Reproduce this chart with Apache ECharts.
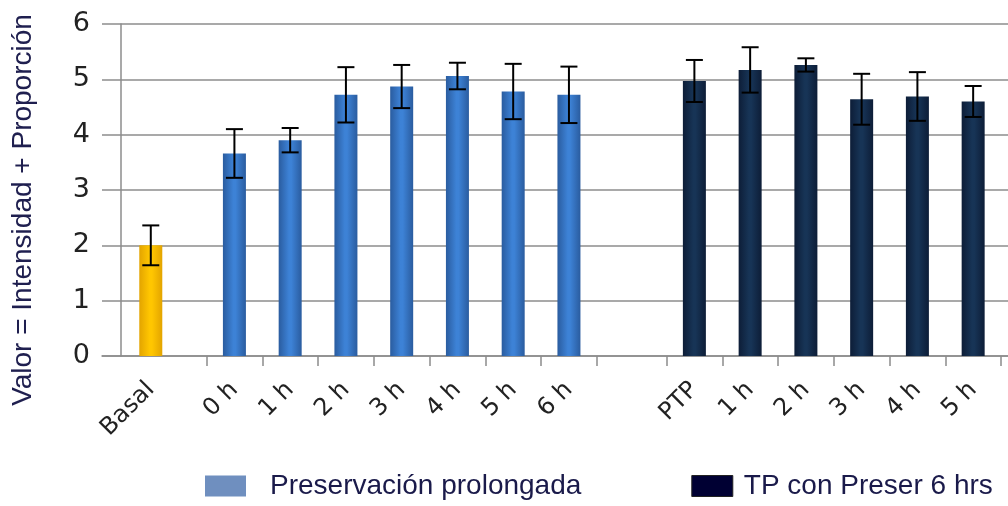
<!DOCTYPE html>
<html>
<head>
<meta charset="utf-8">
<script src="https://cdn.jsdelivr.net/npm/echarts@6/dist/echarts.min.js"></script>
<style>
html,body{margin:0;padding:0;background:#fff;}
#c{width:1008px;height:506px;}
</style>
</head>
<body>
<div id="c"></div>
<script>
// ---- data ----
const basalCategories = ['Basal'];
const basalValues = [2.0];
const basalErrors = [0.36];

const prolongadaCategories = ['0 h', '1 h', '2 h', '3 h', '4 h', '5 h', '6 h'];
const prolongadaValues = [3.66, 3.90, 4.72, 4.87, 5.06, 4.78, 4.72];
const prolongadaErrors = [0.44, 0.22, 0.50, 0.39, 0.24, 0.50, 0.51];

const tpCategories = ['PTP', '1 h', '2 h', '3 h', '4 h', '5 h'];
const tpValues = [4.97, 5.17, 5.26, 4.64, 4.69, 4.60];
const tpErrors = [0.38, 0.41, 0.12, 0.46, 0.44, 0.28];

const yTicks = [0, 1, 2, 3, 4, 5, 6];
const legendNames = ['Preservación prolongada', 'TP con Preser 6 hrs'];
const yTitle = 'Valor = Intensidad + Proporción';

// ---- layout (fine slot grid on the category axis, with gaps between groups) ----
const TOTAL_SLOTS = 65;
const SLOTS_PER_BAR = 4;
const groupStartSlot = [3, 9, 42];

const groups = [
  {cats: basalCategories, vals: basalValues, errs: basalErrors},
  {cats: prolongadaCategories, vals: prolongadaValues, errs: prolongadaErrors},
  {cats: tpCategories, vals: tpValues, errs: tpErrors}
];
const axisData = new Array(TOTAL_SLOTS).fill('');
const seriesData = groups.map(() => new Array(TOTAL_SLOTS).fill('-'));
const errorData = [];
const tickSlots = new Set();
groups.forEach((g, gi) => {
  g.cats.forEach((c, i) => {
    const s = groupStartSlot[gi] + i * SLOTS_PER_BAR;
    axisData[s] = c;
    seriesData[gi][s] = g.vals[i];
    errorData.push([s, g.vals[i] - g.errs[i], g.vals[i] + g.errs[i]]);
    if (gi > 0) { tickSlots.add(s - SLOTS_PER_BAR / 2); tickSlots.add(s + SLOTS_PER_BAR / 2); }
  });
});

function grad(edge, mid) {
  return new echarts.graphic.LinearGradient(0, 0, 1, 0, [
    {offset: 0, color: edge}, {offset: 0.45, color: mid}, {offset: 0.55, color: mid}, {offset: 1, color: edge}
  ]);
}

const chart = echarts.init(document.getElementById('c'), null, {renderer: 'canvas'});
chart.setOption({
  animation: false,
  backgroundColor: '#ffffff',
  grid: {left: 102, right: -4, top: 24, bottom: 150, containLabel: false},
  graphic: [{
    type: 'text', x: 23, y: 210, rotation: Math.PI / 2,
    style: {text: yTitle, font: '28px "Liberation Sans", Arial, sans-serif', fill: '#1f1f4f',
      textAlign: 'center', textVerticalAlign: 'middle'}
  }],
  legend: {
    left: 200, top: 467, width: 1200, orient: 'horizontal',
    itemWidth: 41, itemHeight: 21, itemGap: 110, icon: 'rect',
    textStyle: {fontFamily: '"Liberation Sans", Arial, sans-serif', fontSize: 28, color: '#1a1a4a'},
    data: [
      {name: legendNames[0], itemStyle: {color: '#6f8fbf'}, textStyle: {padding: [0, 0, 0, 19]}},
      {name: legendNames[1], itemStyle: {color: '#000033', borderColor: '#222', borderWidth: 1}, textStyle: {padding: [0, 0, 0, 6]}}
    ]
  },
  xAxis: {
    type: 'category', data: axisData,
    axisLine: {lineStyle: {color: '#8c8c8c', width: 1.5}},
    axisTick: {show: true, alignWithLabel: true, interval: (idx) => tickSlots.has(idx), length: 10,
      lineStyle: {color: '#8c8c8c', width: 1.5}},
    axisLabel: {interval: 0, rotate: 45, margin: 30, fontFamily: '"DejaVu Sans", Verdana, sans-serif', fontSize: 24, color: '#222'},
    splitLine: {show: false}
  },
  yAxis: {
    type: 'value', min: yTicks[0], max: yTicks[yTicks.length - 1], interval: 1, offset: -19,
    axisLine: {show: true, lineStyle: {color: '#8c8c8c', width: 1.5}},
    axisTick: {show: false},
    axisLabel: {margin: 31, fontFamily: '"DejaVu Sans", Verdana, sans-serif', fontSize: 27, color: '#222'},
    splitLine: {show: true, lineStyle: {color: '#8c8c8c', width: 1.5}}
  },
  series: [
    {name: 'Basal', type: 'bar', data: seriesData[0], barWidth: 23, barGap: '-100%',
      itemStyle: {color: grad('#e3a400', '#ffc600')}},
    {name: legendNames[0], type: 'bar', data: seriesData[1], barWidth: 23, barGap: '-100%',
      itemStyle: {color: grad('#2a5c9f', '#3d82d6')}},
    {name: legendNames[1], type: 'bar', data: seriesData[2], barWidth: 23, barGap: '-100%',
      itemStyle: {color: grad('#0d1d37', '#173456')}},
    {name: 'err', type: 'custom', data: errorData, z: 10,
      renderItem: function (params, api) {
        const x = api.value(0);
        const lo = api.coord([x, api.value(1)]);
        const hi = api.coord([x, api.value(2)]);
        const hw = 8.5;
        const st = {stroke: '#000', lineWidth: 2};
        return {type: 'group', children: [
          {type: 'line', shape: {x1: hi[0], y1: hi[1], x2: lo[0], y2: lo[1]}, style: st},
          {type: 'line', shape: {x1: hi[0] - hw, y1: hi[1], x2: hi[0] + hw, y2: hi[1]}, style: st},
          {type: 'line', shape: {x1: lo[0] - hw, y1: lo[1], x2: lo[0] + hw, y2: lo[1]}, style: st}
        ]};
      }
    }
  ]
});
</script>
</body>
</html>
